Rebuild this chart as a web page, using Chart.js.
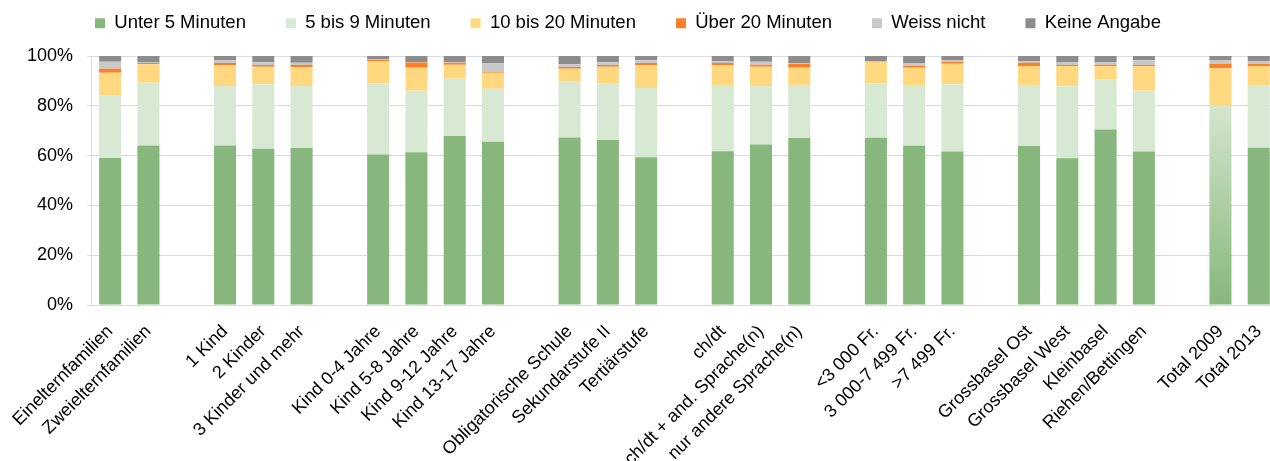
<!DOCTYPE html>
<html>
<head>
<meta charset="utf-8">
<script src="https://cdn.jsdelivr.net/npm/chart.js@4"></script>
<style>
  html, body { margin: 0; padding: 0; background: #fff; overflow: hidden; }
  #wrap { width: 1282px; height: 461px; }
</style>
</head>
<body>
<div id="wrap"><canvas id="chart" width="1282" height="461"></canvas></div>
<script>
// Kategorien (leere Einträge = Abstand zwischen den Gruppen)
const categories = [
  'Einelternfamilien', 'Zweielternfamilien', '',
  '1 Kind', '2 Kinder', '3 Kinder und mehr', '',
  'Kind 0-4 Jahre', 'Kind 5-8 Jahre', 'Kind 9-12 Jahre', 'Kind 13-17 Jahre', '',
  'Obligatorische Schule', 'Sekundarstufe II', 'Tertiärstufe', '',
  'ch/dt', 'ch/dt + and. Sprache(n)', 'nur andere Sprache(n)', '',
  '<3 000 Fr.', '3 000-7 499 Fr.', '>7 499 Fr.', '',
  'Grossbasel Ost', 'Grossbasel West', 'Kleinbasel', 'Riehen/Bettingen', '',
  'Total 2009', 'Total 2013'
]

const unter5 = [59.0, 64.1, null, 64.1, 62.8, 63.1, null, 60.4, 61.3, 67.9, 65.6, null, 67.3, 66.3, 59.3, null, 61.7, 64.5, 67.1, null, 67.2, 64.0, 61.6, null, 63.9, 58.9, 70.5, 61.6, null, 80.3, 63.2]
const bis9 = [25.0, 25.2, null, 23.9, 25.9, 24.9, null, 28.7, 24.7, 23.0, 21.2, null, 22.7, 22.6, 27.8, null, 26.7, 23.5, 21.3, null, 21.9, 24.4, 27.1, null, 24.5, 29.0, 20.2, 24.4, null, 0, 25.2]
const bis20 = [9.3, 7.4, null, 8.4, 7.0, 7.6, null, 8.9, 9.3, 5.6, 6.5, null, 4.9, 6.8, 9.3, null, 8.0, 7.7, 6.9, null, 8.5, 6.9, 8.2, null, 7.6, 8.1, 5.3, 10.0, null, 14.8, 7.6]
const ueber20 = [1.6, 0.5, null, 0.8, 0.7, 0.8, null, 0.4, 2.1, 0.8, 0.3, null, 0.7, 0.7, 0.8, null, 0.8, 0.8, 1.5, null, 0.1, 0.8, 0.7, null, 1.3, 0.4, 0.5, 0.4, null, 1.8, 0.9]
const weissNicht = [2.8, 0.4, null, 1.2, 1.1, 0.9, null, 0.4, 0.2, 0.3, 3.5, null, 1.1, 1.1, 1.1, null, 0.8, 1.2, 0.4, null, 0.3, 1.1, 0.8, null, 0.7, 1.2, 1.1, 1.9, null, 1.5, 1.1]
const keineAngabe = [2.3, 2.4, null, 1.6, 2.5, 2.7, null, 1.2, 2.4, 2.4, 2.9, null, 3.3, 2.5, 1.7, null, 2.0, 2.3, 2.8, null, 2.0, 2.8, 1.6, null, 2.0, 2.4, 2.4, 1.7, null, 1.6, 2.0]

const yTicks = [0, 20, 40, 60, 80, 100]

const green = '#87b77c'
const total2009 = categories.indexOf('Total 2009')

// Total 2009: Verlauf von grün nach hellgrün (keine Trennung <5 / 5-9 Min.)
function unter5Color(ctx) {
  const chart = ctx.chart
  if (ctx.dataIndex !== total2009 || !chart.chartArea) return green
  const y = chart.scales.y
  const g = chart.ctx.createLinearGradient(0, y.getPixelForValue(0), 0, y.getPixelForValue(unter5[total2009]))
  g.addColorStop(0, '#87b77c')
  g.addColorStop(1, '#d3e6cd')
  return g
}

Chart.defaults.font.family = "'Liberation Sans', Arial, sans-serif"
Chart.defaults.font.size = 18
Chart.defaults.color = '#000'

const shiftLegend = {
  id: 'shiftLegend',
  afterLayout(chart) {
    chart.legend.left -= 13
    chart.legend.right -= 13
  }
}

new Chart(document.getElementById('chart'), {
  type: 'bar',
  data: {
    labels: categories,
    datasets: [
      { label: 'Unter 5 Minuten', data: unter5, backgroundColor: unter5Color },
      { label: '5 bis 9 Minuten', data: bis9, backgroundColor: '#d8e9d3' },
      { label: '10 bis 20 Minuten', data: bis20, backgroundColor: '#ffd880' },
      { label: 'Über 20 Minuten', data: ueber20, backgroundColor: '#fd7f2a' },
      { label: 'Weiss nicht', data: weissNicht, backgroundColor: '#c8c8c8' },
      { label: 'Keine Angabe', data: keineAngabe, backgroundColor: '#8c8c8c' }
    ]
  },
  options: {
    responsive: false,
    animation: false,
    datasets: { bar: { barPercentage: 0.9, categoryPercentage: 0.64 } },
    layout: { padding: { top: -26, left: 0, right: 0, bottom: 0 } },
    plugins: {
      legend: {
        labels: { boxWidth: 10, boxHeight: 10, padding: 40, font: { size: 18.5 } }
      },
      title: { display: true, text: '', weight: 500, padding: 0, font: { size: 13.5, lineHeight: 1 } },
      tooltip: { enabled: false }
    },
    scales: {
      x: {
        stacked: true,
        grid: { display: false },
        border: { color: '#d6dce2' },
        ticks: { autoSkip: false, maxRotation: 45, minRotation: 45, padding: 8 },
        afterFit(scale) { scale.height = 156 }
      },
      y: {
        stacked: true,
        min: 0,
        max: 100,
        afterBuildTicks(scale) { scale.ticks = yTicks.map(v => ({ value: v })) },
        grid: { color: '#d6dce2', tickLength: 4 },
        border: { color: '#d6dce2' },
        ticks: { padding: 14, callback: v => v + '%' },
        afterFit(scale) { scale.width = 91 }
      }
    }
  },
  plugins: [shiftLegend]
})
</script>
</body>
</html>
